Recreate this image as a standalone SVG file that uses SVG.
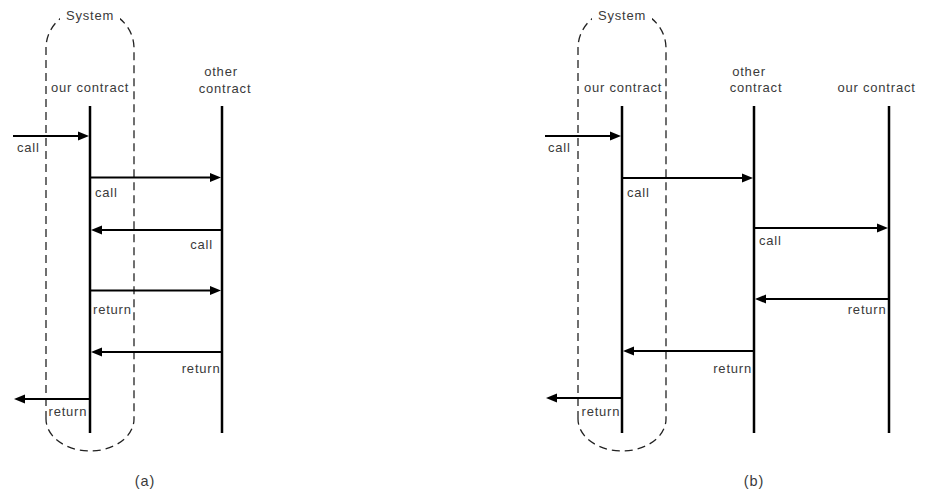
<svg xmlns="http://www.w3.org/2000/svg" width="928" height="495" viewBox="0 0 928 495">
<style>
text{font-family:"Liberation Sans",Arial,sans-serif;font-size:13px;letter-spacing:0.8px;fill:#3a3a3a}
.m{text-anchor:middle}.e{text-anchor:end}
.cap{font-size:14.5px;letter-spacing:1px}
.life{stroke:#000;stroke-width:2.5;fill:none}
.sys{stroke:#222;stroke-width:1.3;fill:none;stroke-dasharray:8 5}
.arr{stroke:#000;stroke-width:2.2;fill:none;marker-end:url(#ah)}
</style>
<defs>
<marker id="ah" markerUnits="userSpaceOnUse" markerWidth="12" markerHeight="10" viewBox="0 -5 12 10" refX="0" refY="0" orient="auto"><path d="M0,-4.5 L11,0 L0,4.5 Z" fill="#000"/></marker>
</defs>
<rect width="928" height="495" fill="#fff"/>
<g id="system-a">
<path class="sys" d="M46,419 L46,48 A44,40 0 0 1 134,48 L134,419 A44,32 0 0 1 46,419"/>
<rect x="60" y="3" width="60" height="20" fill="#fff"/>
<text class="m" x="90" y="19.5">System</text>
</g>
<g id="our-contract-a">
<line class="life" x1="90" y1="106" x2="90" y2="433"/>
<text class="m" x="90" y="91.5">our contract</text>
</g>
<g id="other-contract-a">
<line class="life" x1="222" y1="106" x2="222" y2="433"/>
<text class="m" x="221" y="76">other</text>
<text class="m" x="225" y="93">contract</text>
</g>
<g id="system-b">
<path class="sys" d="M578,419 L578,48 A44,40 0 0 1 666,48 L666,419 A44,32 0 0 1 578,419"/>
<rect x="592" y="3" width="60" height="20" fill="#fff"/>
<text class="m" x="622" y="19.5">System</text>
</g>
<g id="our-contract-b">
<line class="life" x1="622" y1="106" x2="622" y2="433"/>
<text class="m" x="623" y="91.5">our contract</text>
</g>
<g id="other-contract-b">
<line class="life" x1="754" y1="106" x2="754" y2="433"/>
<text class="m" x="749" y="76">other</text>
<text class="m" x="756" y="92">contract</text>
</g>
<g id="our-contract-b2">
<line class="life" x1="889" y1="106" x2="889" y2="433"/>
<text class="m" x="876.5" y="91.5">our contract</text>
</g>
<g id="connectors">
<line class="arr" x1="13" y1="136" x2="78" y2="136"/>
<text x="17" y="151.5">call</text>
<line class="arr" x1="90" y1="177.5" x2="210" y2="177.5"/>
<text x="95" y="196.5">call</text>
<line class="arr" x1="222" y1="230" x2="102" y2="230"/>
<text class="e" x="213" y="249">call</text>
<line class="arr" x1="90" y1="290.5" x2="210" y2="290.5"/>
<text x="93" y="314">return</text>
<line class="arr" x1="222" y1="352" x2="102" y2="352"/>
<text class="e" x="220.5" y="373">return</text>
<line class="arr" x1="90" y1="399" x2="25" y2="399"/>
<text x="48.5" y="416">return</text>

<line class="arr" x1="545" y1="136" x2="610" y2="136"/>
<text x="548" y="151.5">call</text>
<line class="arr" x1="622" y1="178" x2="742" y2="178"/>
<text x="627" y="196.5">call</text>
<line class="arr" x1="754" y1="228" x2="877" y2="228"/>
<text x="759" y="245">call</text>
<line class="arr" x1="889" y1="299" x2="766" y2="299"/>
<text class="e" x="886.5" y="314">return</text>
<line class="arr" x1="754" y1="351" x2="634" y2="351"/>
<text class="e" x="752" y="373">return</text>
<line class="arr" x1="622" y1="398" x2="557" y2="398"/>
<text x="581.5" y="416">return</text>
</g>
<text class="m cap" x="145" y="485.5">(a)</text>
<text class="m cap" x="754" y="485.5">(b)</text>
</svg>
